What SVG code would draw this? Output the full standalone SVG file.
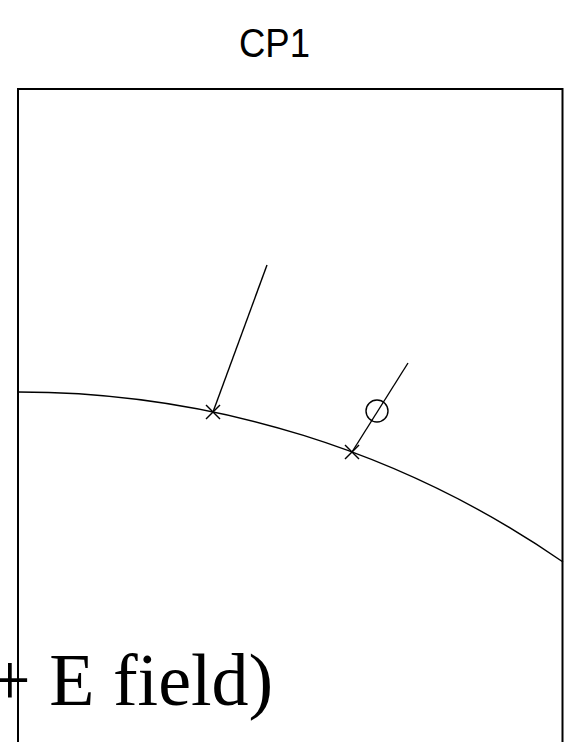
<svg xmlns="http://www.w3.org/2000/svg" width="564" height="742" viewBox="0 0 564 742">
  <style>
    .frame { fill: none; stroke: #000; stroke-width: 2; }
    .ln { fill: none; stroke: #000; stroke-width: 1.4; }
    .title { font-family: "Liberation Sans", Arial, sans-serif; font-size: 40px; fill: #000; }
    .big { font-family: "Liberation Serif", "Times New Roman", serif; font-size: 74px; fill: #000; }
  </style>
  <defs>
    <g id="xmark">
      <line class="ln" x1="-7" y1="-7" x2="7" y2="7"/>
      <line class="ln" x1="-7" y1="7" x2="7" y2="-7"/>
    </g>
  </defs>
  <rect width="564" height="742" fill="#fff"/>
  <text class="title" x="239" y="57" textLength="71" lengthAdjust="spacingAndGlyphs">CP1</text>
  <g id="frame">
    <path class="frame" d="M 18 750 L 18 89 L 562.5 89 L 562.5 750"/>
  </g>
  <g id="curve">
    <path class="ln" d="M 18 392 A 957 957 0 0 1 563 562"/>
  </g>
  <g id="connectors">
    <line class="ln" x1="213" y1="412" x2="267" y2="265"/>
    <line class="ln" x1="352" y1="452" x2="408" y2="363"/>
  </g>
  <g id="point1">
    <use href="#xmark" x="213" y="412"/>
  </g>
  <g id="point2">
    <use href="#xmark" x="352" y="452"/>
  </g>
  <g id="circle">
    <circle class="ln" cx="377" cy="411" r="11"/>
  </g>
  <text class="big" x="-11" y="705">+ E field)</text>
</svg>
